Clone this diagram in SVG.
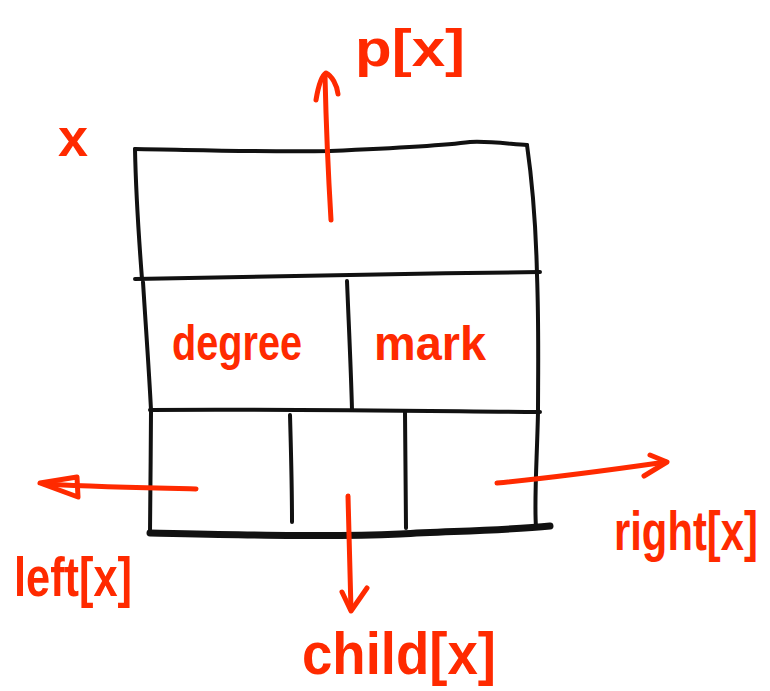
<svg xmlns="http://www.w3.org/2000/svg" width="770" height="691" viewBox="0 0 770 691">
<style>
.ink{fill:none;stroke:#111;stroke-width:4;stroke-linecap:round;stroke-linejoin:round}
.thick{stroke-width:7}
.red{fill:none;stroke:#ff2a00;stroke-width:5;stroke-linecap:round;stroke-linejoin:round}
.lbl{fill:#ff2a00;font-family:"Liberation Sans","DejaVu Sans",sans-serif;font-weight:bold}
</style>
<rect width="770" height="691" fill="#fff"/>
<g id="node-x">
<path class="ink" d="M135,149 C200,150 260,152 330,151 C400,148 440,146 470,142 C490,141 510,144 527,145"/>
<path class="ink" d="M527,145 C532,180 536,230 537,275 C539,330 538,380 538,412 C537,460 534,500 536,527"/>
<path class="ink" d="M135,149 C136,200 139,240 142,279"/>
<path class="ink" d="M143,282 C146,330 149,370 151,410"/>
<path class="ink" d="M151,412 C151,450 150,500 150,532"/>
<path class="ink" d="M135,279 C250,276 400,274 540,272"/>
<path class="ink" d="M150,410 C280,409 420,411 540,412"/>
<path class="ink" d="M347,281 C349,330 351,370 352,410"/>
<path class="ink" d="M290,415 C291,450 292,490 292,522"/>
<path class="ink" d="M405,412 C405,450 406,490 406,528"/>
<path class="ink thick" d="M150,533 C250,535 330,537 400,534 C460,531 510,530 550,526"/>
<text class="lbl" x="58" y="156" font-size="54">x</text>
<text class="lbl" x="172" y="360" font-size="50" textLength="130" lengthAdjust="spacingAndGlyphs">degree</text>
<text class="lbl" x="374" y="360" font-size="48" textLength="112" lengthAdjust="spacingAndGlyphs">mark</text>
</g>
<g id="connectors">
<path class="red" d="M331,220 C328,170 326,120 325,76"/>
<path class="red" d="M316,100 C318,88 321,76 326,73 C332,76 337,85 338,94"/>
<path class="red" d="M196,489 C150,488 100,487 45,484"/>
<path class="red" d="M40,483 L77,477 L78,497 Z"/>
<path class="red" d="M348,496 C349,530 350,570 351,610"/>
<path class="red" d="M342,592 L351,611 L367,588"/>
<path class="red" d="M497,483 C550,478 610,470 666,462"/>
<path class="red" d="M650,455 L667,462 L644,476"/>
</g>
<g id="label-p">
<text class="lbl" x="355" y="66" font-size="52" textLength="110" lengthAdjust="spacingAndGlyphs">p[x]</text>
</g>
<g id="label-left">
<text class="lbl" x="14" y="596" font-size="55" textLength="118" lengthAdjust="spacingAndGlyphs">left[x]</text>
</g>
<g id="label-child">
<text class="lbl" x="302" y="674" font-size="60" textLength="194" lengthAdjust="spacingAndGlyphs">child[x]</text>
</g>
<g id="label-right">
<text class="lbl" transform="translate(614,550) scale(0.76,1)" x="0" y="0" font-size="55">right[x]</text>
</g>
</svg>
